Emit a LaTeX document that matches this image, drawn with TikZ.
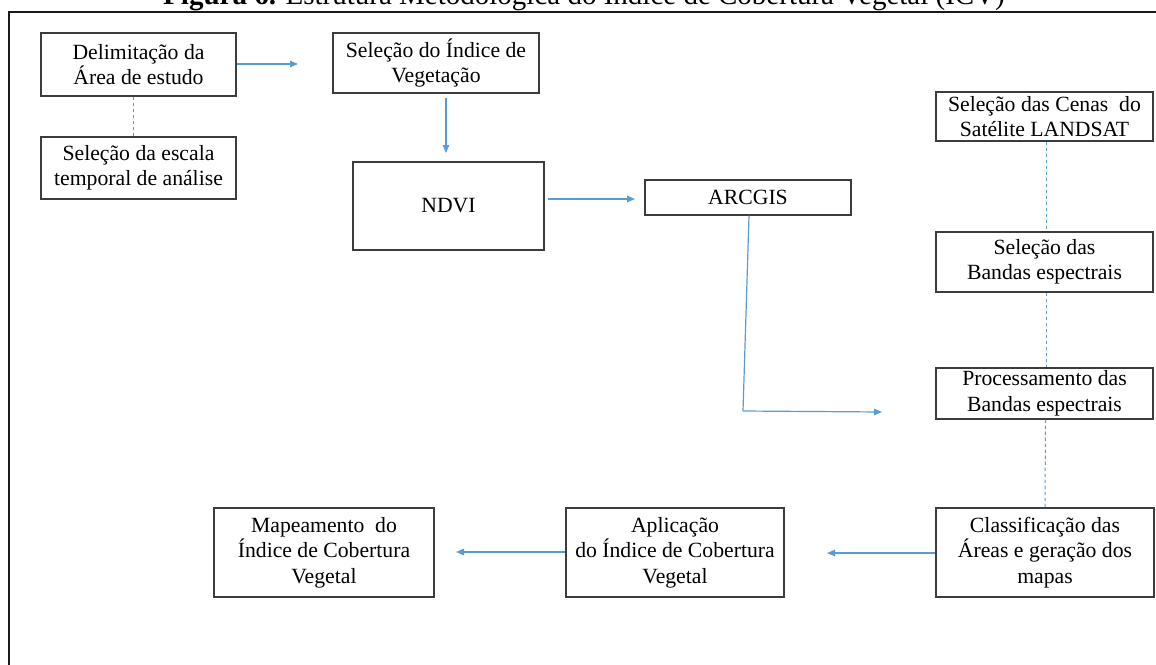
\documentclass[tikz,border=0pt]{standalone}
\usepackage{fontspec}
\setmainfont{Liberation Serif}
\usetikzlibrary{arrows.meta}

\definecolor{linkblue}{RGB}{91,155,213}
\definecolor{boxline}{RGB}{60,60,60}
\definecolor{framecol}{RGB}{25,25,25}

\tikzset{
  stepbox/.style={draw=boxline, line width=1.2pt, align=center, inner sep=2pt,
    font=\fontsize{21.7}{25.5}\selectfont},
  flow/.style={draw=linkblue, line width=1.2pt,
    -{Triangle[length=8pt,width=6.5pt]}},
  flowline/.style={draw=linkblue, line width=1.2pt},
  link/.style={draw=linkblue, line width=1pt, dash pattern=on 3.5pt off 2.5pt},
}

\begin{document}
\begin{tikzpicture}[x=1pt,y=-1pt]
\useasboundingbox (0,0) rectangle (1156,664);

% caption (partly above the page edge)
\node[anchor=base, inner sep=0] (title) at (584,4)
  {\fontsize{29}{33}\selectfont\textbf{Figura 6.} Estrutura Metodológica do Índice de Cobertura Vegetal (ICV)};

% outer frame
\draw[framecol, line width=2.6pt] (1162,12) -- (9,12) -- (9,672);

% boxes
\node[stepbox, minimum width=195, minimum height=63] (area) at (138.5,64.5)
  {Delimitação da\\Área de estudo};
\node[stepbox, minimum width=195, minimum height=62] (escala) at (138.5,168)
  {Seleção da escala\\temporal de análise};
\node[stepbox, minimum width=206, minimum height=60] (indice) at (436,63)
  {Seleção do Índice de\\Vegetação};
\node[stepbox, minimum width=191, minimum height=88] (ndvi) at (448.5,206)
  {NDVI};
\node[stepbox, minimum width=206, minimum height=35] (arcgis) at (748,197.5)
  {ARCGIS};
\node[stepbox, minimum width=217, minimum height=49] (cenas) at (1044.5,116.5)
  {Seleção das Cenas~ do\\Satélite LANDSAT};
\node[stepbox, minimum width=217, minimum height=60] (bandas) at (1044.5,262)
  {Seleção das\\Bandas espectrais};
\node[stepbox, minimum width=217, minimum height=51] (proc) at (1044.5,393.5)
  {Processamento das\\Bandas espectrais};
\node[stepbox, minimum width=218, minimum height=89] (classif) at (1045,552.5)
  {Classificação das\\Áreas e geração dos\\mapas};
\node[stepbox, minimum width=218, minimum height=89] (aplic) at (675,552.5)
  {Aplicação\\do Índice de Cobertura\\Vegetal};
\node[stepbox, minimum width=220, minimum height=89] (mapa) at (324,552.5)
  {Mapeamento~ do\\Índice de Cobertura\\Vegetal};

% free arrow ends
\coordinate (areaEnd) at (298,64);
\coordinate (indTop) at (446,98);
\coordinate (indEnd) at (446,153);
\coordinate (ndviStart) at (548,199);
\coordinate (ndviEnd) at (635,199);
\coordinate (bend) at (743,411);
\coordinate (procEnd) at (882,412);
\coordinate (classEnd) at (827,553);
\coordinate (aplicEnd) at (456,552);

% connectors
\draw[flow] (area.east |- areaEnd) -- (areaEnd);
\draw[link] ([xshift=-5.5pt]area.south) -- ([xshift=-5.5pt]escala.north);
\draw[flow] (indTop) -- (indEnd);
\draw[flow] (ndviStart) -- (ndviEnd);
\draw[flowline] ([xshift=1pt]arcgis.south) -- (bend);
\draw[flow] (bend) -- (procEnd);
\draw[link] ([xshift=1.5pt]cenas.south) -- ([xshift=1.5pt]bandas.north);
\draw[link] ([xshift=1.5pt]bandas.south) -- ([xshift=1.5pt]proc.north);
\draw[link] ([xshift=1pt]proc.south) -- ([xshift=0pt]classif.north);
\draw[flow] (classif.west |- classEnd) -- (classEnd);
\draw[flow] (aplic.west |- aplicEnd) -- (aplicEnd);
\end{tikzpicture}
\end{document}
